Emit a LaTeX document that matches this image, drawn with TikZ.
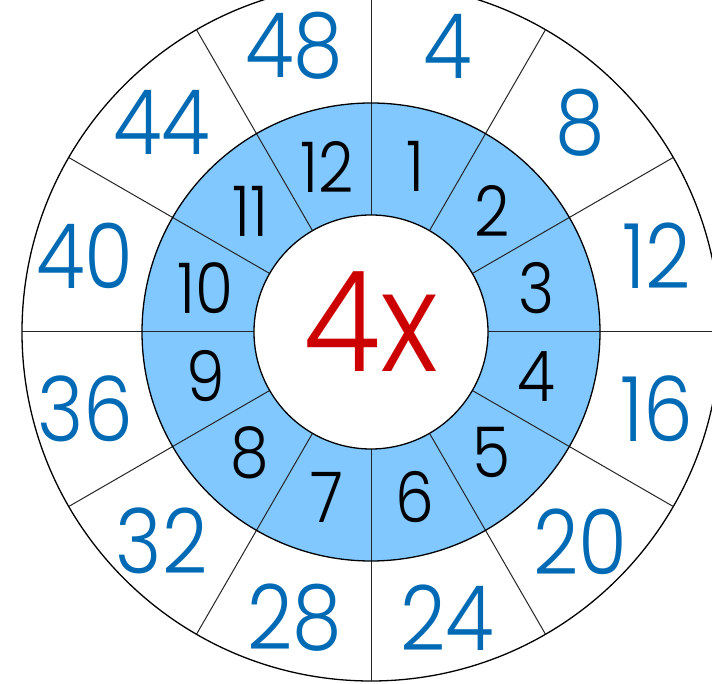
\documentclass[tikz,border=0pt]{standalone}
\usepackage{fontspec}
\setmainfont{Poppins Light}
\definecolor{ringblue}{RGB}{128,200,255}
\definecolor{numblue}{RGB}{0,106,180}
\definecolor{centred}{RGB}{204,0,0}
\begin{document}
\begin{tikzpicture}[x=1pt,y=1pt,
  ringline/.style={draw=black!85,line width=1pt},
  circline/.style={draw=black,line width=1.3pt},
  outernum/.style={text=numblue,font=\fontsize{90}{90}\selectfont,inner sep=0pt,xscale=0.88},
  midnum/.style={text=black,font=\fontsize{70}{70}\selectfont,inner sep=0pt,xscale=0.88},
  centrenum/.style={text=centred,font=\fontsize{140}{140}\selectfont,inner sep=0pt,xscale=0.9}]
\useasboundingbox (-371,-352) rectangle (341,332);
\begin{scope}
\clip (-371,-352) rectangle (341,332);
\fill[white] (-371,-352) rectangle (341,332);
\draw[circline] (0,0) circle (349);
\fill[ringblue] (0,0) circle (229);
\foreach \a in {0,30,...,330} {
  \draw[ringline] (\a:117) -- (\a:349);
}
\draw[circline] (0,0) circle (229);
\draw[circline,fill=white] (0,0) circle (117);
\foreach \k in {1,...,12} {
  \pgfmathtruncatemacro{\p}{4*\k}
  \node[outernum] (o\k) at ({105-30*\k}:296) {\p};
  \node[midnum] (m\k) at ({105-30*\k}:171) {\k};
}
\node[centrenum] (c) at (0,10) {4x};
\end{scope}
\end{tikzpicture}
\end{document}
